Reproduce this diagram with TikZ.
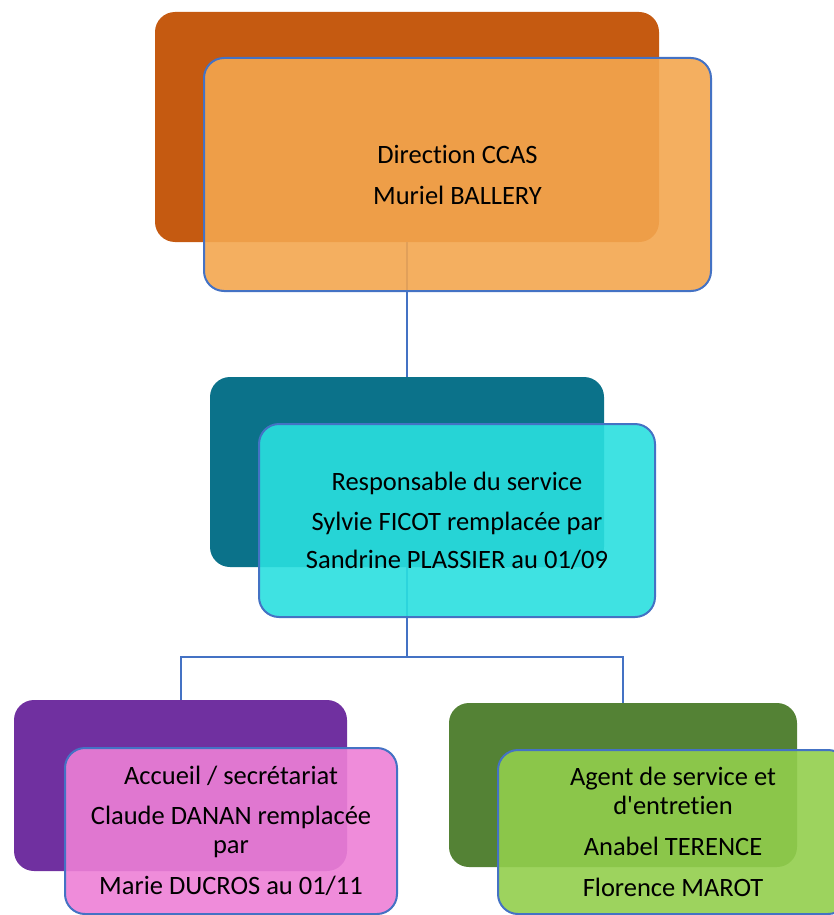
\documentclass[tikz,border=0pt]{standalone}
\usepackage{fontspec}
\setmainfont{Carlito}[Ligatures={TeXOff,NoCommon}]
\usepackage{tikz}
\usetikzlibrary{positioning}
\definecolor{linkblue}{HTML}{4472C4}
\definecolor{dirdark}{HTML}{C55A11}
\definecolor{dirlight}{HTML}{F3A64F}
\definecolor{respdark}{HTML}{0B728A}
\definecolor{resplight}{HTML}{2ADFDF}
\definecolor{accdark}{HTML}{7030A0}
\definecolor{acclight}{HTML}{ED7FD6}
\definecolor{agentdark}{HTML}{548235}
\definecolor{agentlight}{HTML}{92CE4D}
\tikzset{back/.style={rounded corners=20pt, inner sep=0pt, outer sep=0pt}}
\tikzset{front/.style={rounded corners=20pt, draw=linkblue, line width=2pt,
    fill opacity=0.9, text opacity=1, align=center, inner sep=0pt,
    outer sep=0pt, anchor=north west,
    font=\fontsize{26.5pt}{29pt}\selectfont}}
\tikzset{link/.style={draw=linkblue, line width=2pt}}

\begin{document}
\begin{tikzpicture}[x=1pt,y=-1pt]
  \useasboundingbox (0,0) rectangle (834,915);

  \node[back, fill=dirdark, minimum width=504pt, minimum height=230pt]
    (dirB) at (407,127) {};
  \node[back, fill=respdark, minimum width=394pt, minimum height=190pt]
    (respB) at (407,472) {};
  \node[back, fill=accdark, minimum width=333pt, minimum height=171pt]
    (accB) at (180.5,785.5) {};
  \node[back, fill=agentdark, minimum width=348pt, minimum height=164pt]
    (agentB) at (623,785) {};

  \draw[link] (dirB.south) -- (respB.north);
  \draw[link] (respB.south) -- ++(0,90) -| (accB.north);
  \draw[link] (respB.south) -- ++(0,90) -| (agentB.north);

  \node[front, fill=dirlight, minimum width=507pt, minimum height=233pt]
    (dir) at ([shift={(49,46)}]dirB.north west)
    {Direction CCAS\\[12pt]Muriel BALLERY};
  \node[front, fill=resplight, minimum width=396pt, minimum height=193pt]
    (resp) at ([shift={(49,47)}]respB.north west)
    {Responsable du service\\[11pt]Sylvie FICOT remplacée par\\[9pt]Sandrine PLASSIER au 01/09};
  \node[front, fill=acclight, minimum width=332pt, minimum height=166pt]
    (acc) at ([shift={(51,48)}]accB.north west)
    {Accueil / secrétariat\\[11pt]Claude DANAN remplacée\\par\\[12pt]Marie DUCROS au 01/11};
  \node[front, fill=agentlight, minimum width=350pt, minimum height=164pt]
    (agent) at ([shift={(49,47)}]agentB.north west)
    {Agent de service et\\d'entretien\\[12pt]Anabel TERENCE\\[12pt]Florence MAROT};
\end{tikzpicture}
\end{document}
